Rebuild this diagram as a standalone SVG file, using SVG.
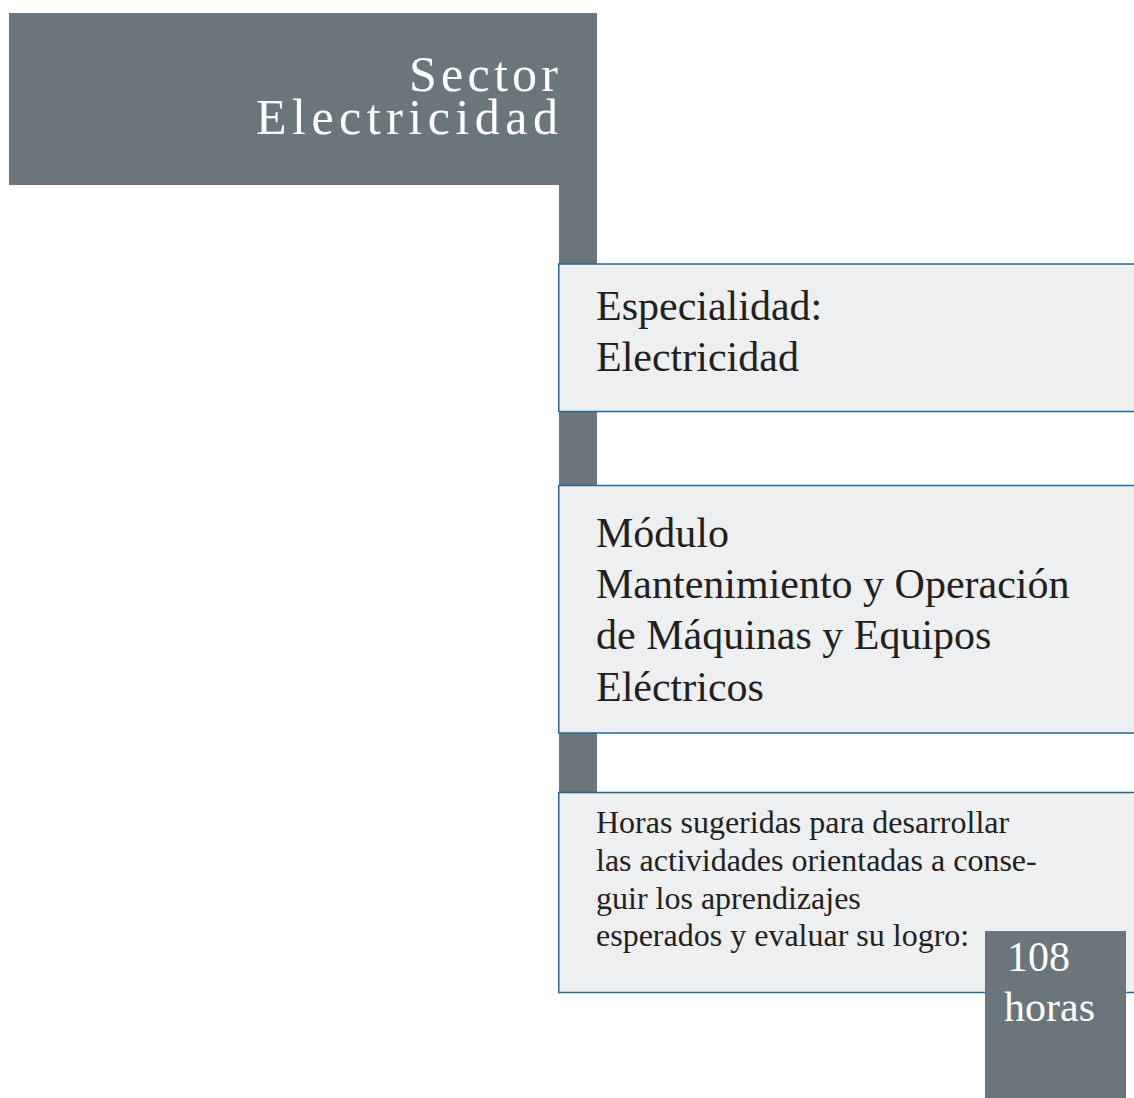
<svg xmlns="http://www.w3.org/2000/svg" width="1134" height="1098" viewBox="0 0 1134 1098">
<style>
.grey{fill:#6b757c}
.box{fill:#eeeff1;stroke:#2a6596;stroke-width:1.5}
.t{font-family:"Liberation Serif","Times New Roman",serif;fill:#231f20}
.w{font-family:"Liberation Serif","Times New Roman",serif;fill:#ffffff}
</style>
<rect width="1134" height="1098" fill="#ffffff"/>
<g id="connectors">
<rect class="grey" x="559" y="180" width="38" height="620"/>
</g>
<g id="sector">
<rect class="grey" x="9" y="13" width="588" height="172"/>
<text class="w" font-size="50" x="409" y="91" textLength="149" lengthAdjust="spacing">Sector</text>
<text class="w" font-size="50" x="256" y="134" textLength="302" lengthAdjust="spacing">Electricidad</text>
</g>
<g id="especialidad">
<rect class="box" x="558.75" y="264" width="580" height="147.5"/>
<text class="t" font-size="42" x="596" y="320">Especialidad:</text>
<text class="t" font-size="42" x="596" y="371">Electricidad</text>
</g>
<g id="modulo">
<rect class="box" x="558.75" y="485.5" width="580" height="247.5"/>
<text class="t" font-size="42" x="596" y="547">Módulo</text>
<text class="t" font-size="42" x="596" y="598">Mantenimiento y Operación</text>
<text class="t" font-size="42" x="596" y="649">de Máquinas y Equipos</text>
<text class="t" font-size="42" x="596" y="701">Eléctricos</text>
</g>
<g id="horas-sugeridas">
<rect class="box" x="558.75" y="792.5" width="580" height="200"/>
<text class="t" font-size="32" x="596" y="833">Horas sugeridas para desarrollar</text>
<text class="t" font-size="32" x="596" y="871">las actividades orientadas a conse-</text>
<text class="t" font-size="32" x="596" y="909">guir los aprendizajes</text>
<text class="t" font-size="32" x="596" y="946">esperados y evaluar su logro:</text>
</g>
<g id="horas">
<rect class="grey" x="985" y="931" width="141" height="167"/>
<text class="w" font-size="42" x="1007" y="971">108</text>
<text class="w" font-size="42" x="1004" y="1021">horas</text>
</g>
</svg>
